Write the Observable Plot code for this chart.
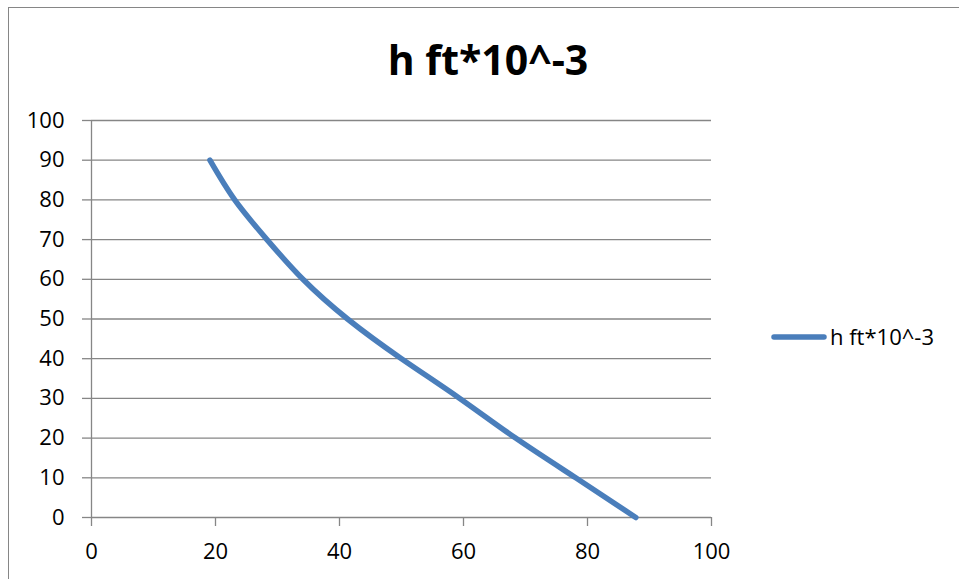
<!DOCTYPE html>
<html>
<head>
<meta charset="utf-8">
<script src="https://cdn.jsdelivr.net/npm/d3@7"></script>
<script src="https://cdn.jsdelivr.net/npm/@observablehq/plot@0.6"></script>
<style>
  html, body { margin: 0; padding: 0; background: #fff; }
  #wrap { position: relative; width: 959px; height: 579px; overflow: hidden; background: #fff; }
  #frame { position: absolute; left: 8px; top: 7px; width: 1200px; height: 1200px; border-left: 1.5px solid #868686; border-top: 1.5px solid #868686; }
  #chart { position: absolute; left: 0; top: 0; }
  #overlay { position: absolute; left: 0; top: 0; pointer-events: none; }
</style>
</head>
<body>
<div id="wrap">
  <div id="frame"></div>
  <div id="chart"></div>
  <svg id="overlay" width="959" height="579"></svg>
</div>
<script>
// ---- data ----
const titleText = "h ft*10^-3";
const seriesName = "h ft*10^-3";
const hValues = [90, 80, 70, 60, 50, 40, 30, 20, 10, 0];
const xValues = [19.1, 23.1, 28.3, 34.1, 41.3, 50.0, 59.4, 68.4, 78.1, 87.8];
const yTicks = [0, 10, 20, 30, 40, 50, 60, 70, 80, 90, 100];
const xTicks = [0, 20, 40, 60, 80, 100];

const lineColor = "#4a7ebb";
const gridColor = "#868686";
const font = "'Open Sans', sans-serif";

const data = hValues.map((h, i) => ({ x: xValues[i], h }));

const plot = Plot.plot({
  width: 959,
  height: 579,
  marginLeft: 91,
  marginRight: 248,
  marginTop: 120,
  marginBottom: 62,
  style: { fontFamily: font, fontSize: "22px", color: "#000", background: "transparent" },
  x: { domain: [0, 100] },
  y: { domain: [0, 100] },
  marks: [
    Plot.gridY(yTicks, { stroke: gridColor, strokeOpacity: 1, strokeWidth: 1.3 }),
    Plot.ruleX([0], { stroke: gridColor, strokeOpacity: 1, strokeWidth: 1.3 }),
    Plot.axisY({ ticks: yTicks, tickSize: 9, tickPadding: 18, stroke: gridColor, strokeOpacity: 1, strokeWidth: 1.3, fill: "#000", fontSize: 22, label: null, tickFormat: d => String(d) }),
    Plot.axisX({ ticks: xTicks, tickSize: 9, tickPadding: 17, stroke: gridColor, strokeOpacity: 1, strokeWidth: 1.3, fill: "#000", fontSize: 22, label: null, tickFormat: d => String(d) }),
    Plot.line(data, { x: "x", y: "h", stroke: lineColor, strokeWidth: 5.5, curve: "natural", strokeLinecap: "round", strokeLinejoin: "round" })
  ]
});
document.getElementById("chart").appendChild(plot);

// ---- title & legend (text layout) ----
const ov = d3.select("#overlay");
ov.append("text")
  .attr("x", 488).attr("y", 75)
  .attr("text-anchor", "middle")
  .attr("font-family", font).attr("font-weight", "bold").attr("font-size", 41)
  .attr("fill", "#000")
  .text(titleText);
const lg = ov.append("g");
lg.append("line")
  .attr("x1", 774).attr("x2", 824).attr("y1", 337).attr("y2", 337)
  .attr("stroke", lineColor).attr("stroke-width", 5.5).attr("stroke-linecap", "round");
lg.append("text")
  .attr("x", 830).attr("y", 345)
  .attr("font-family", font).attr("font-size", 22).attr("fill", "#000")
  .text(seriesName);
</script>
</body>
</html>
